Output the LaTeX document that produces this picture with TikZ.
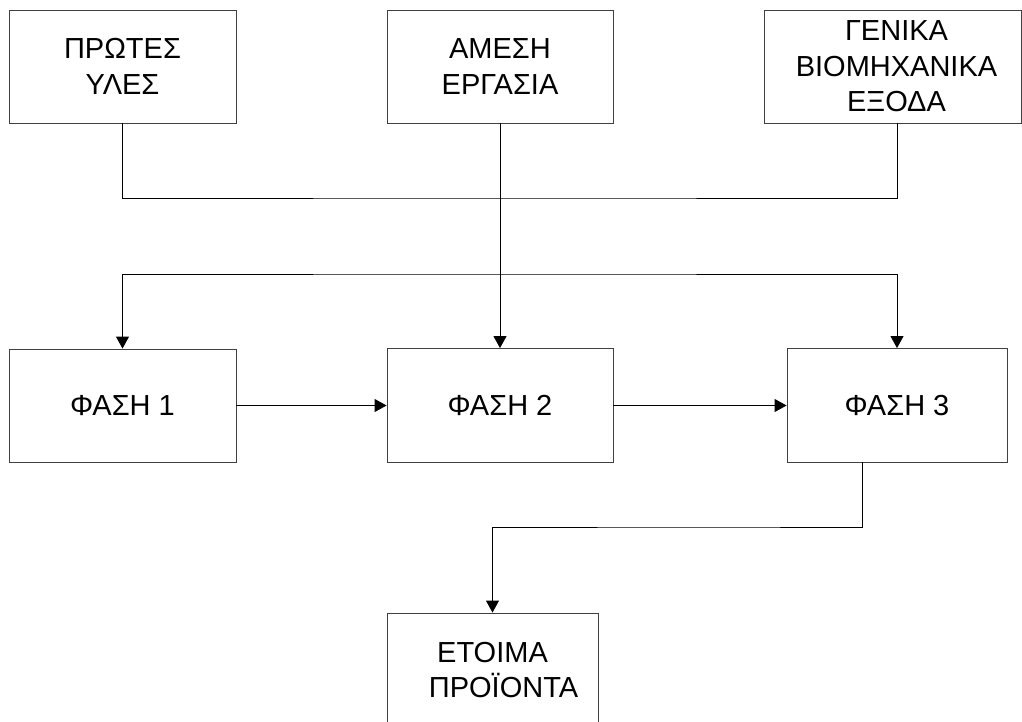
\documentclass[tikz,border=0pt]{standalone}
\usepackage{fontspec}
\setmainfont{Liberation Sans}
\usetikzlibrary{arrows.meta}
\begin{document}
\begin{tikzpicture}[x=1pt,y=-1pt,
  box/.style={draw=black!75,line width=0.9pt,fill=white,inner sep=0pt,align=center,
    font=\fontsize{29}{35.5}\selectfont},
  conn/.style={draw=black,line width=0.9pt},
  tip/.tip={Triangle[length=12pt,width=13pt]},
  arr/.style={conn,-tip}]
\useasboundingbox[fill=white] (0,0) rectangle (1022,722);
% top row
\node[box,minimum width=227pt,minimum height=113pt] (raw) at (122.5,66.5) {ΠΡΩΤΕΣ\\ΥΛΕΣ};
\node[box,minimum width=226pt,minimum height=113pt] (lab) at (500,66.5) {ΑΜΕΣΗ\\ΕΡΓΑΣΙΑ};
\node[box,minimum width=257pt,minimum height=113pt] (ovh) at (892.5,66.5) {\hspace*{8pt}ΓΕΝΙΚΑ\\\hspace*{8pt}ΒΙΟΜΗΧΑΝΙΚΑ\\\hspace*{8pt}ΕΞΟΔΑ};
% phases
\node[box,minimum width=227pt,minimum height=113pt] (ph1) at (122.5,405.5) {ΦΑΣΗ 1};
\node[box,minimum width=226pt,minimum height=114pt] (ph2) at (500,405.5) {ΦΑΣΗ 2};
\node[box,minimum width=220pt,minimum height=114pt] (ph3) at (897,405.5) {ΦΑΣΗ 3};
% final
\node[box,minimum width=211pt,minimum height=114pt] (fin) at (492.5,670) {ΕΤΟΙΜΑ\\\hspace*{22pt}ΠΡΟΪΟΝΤΑ};
% coordinates
\coordinate (bus1) at (500,198);
\coordinate (ovhout) at (897,123);
\coordinate (bus2) at (500,274);
\coordinate (ph3out) at (862,462);
\coordinate (bus3) at (700,527);
% connectors
\draw[conn] (raw.south) |- (bus1) -| (ovhout);
\draw[conn,tip-tip] (ph1.north) |- (bus2) -| (ph3.north);
\draw[arr] (lab.south) -- (ph2.north);
\draw[arr] (ph1.east) -- (ph2.west);
\draw[arr] (ph2.east) -- (ph3.west);
\draw[arr] (ph3out) |- (bus3) -| (fin.north);
\end{tikzpicture}
\end{document}
